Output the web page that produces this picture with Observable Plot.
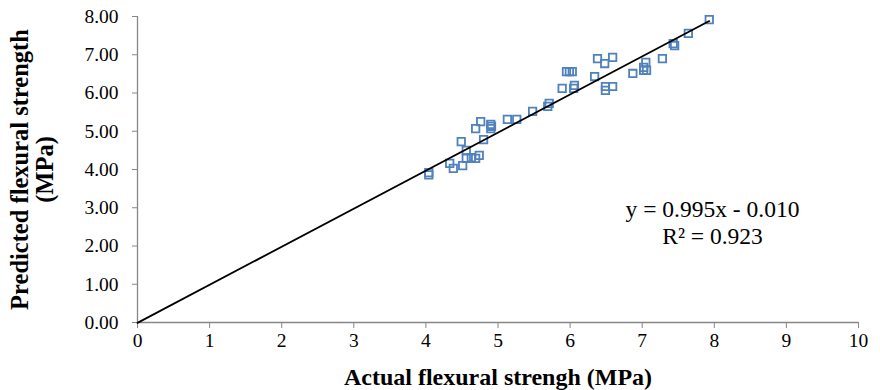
<!DOCTYPE html>
<html>
<head>
<meta charset="utf-8">
<script src="https://cdn.jsdelivr.net/npm/d3@7"></script>
<script src="https://cdn.jsdelivr.net/npm/@observablehq/plot@0.6"></script>
<style>
  body { margin: 0; background: #fff; }
  #chart svg { font-family: "Liberation Serif", "Times New Roman", serif; }
</style>
</head>
<body>
<div id="chart"></div>
<script>
const actual = [4.04, 4.04, 4.33, 4.38, 4.49, 4.51, 4.56, 4.56, 4.63, 4.69, 4.69, 4.74, 4.76, 4.80, 4.90, 4.90, 4.91,
  5.13, 5.26, 5.48, 5.69, 5.71, 5.89, 5.95, 5.99, 6.03, 6.05, 6.06, 6.34, 6.38, 6.48, 6.49, 6.49, 6.59, 6.59,
  6.87, 7.02, 7.02, 7.05, 7.06, 7.28, 7.43, 7.45, 7.64, 7.93];
const predicted = [3.86, 3.92, 4.16, 4.03, 4.73, 4.10, 4.29, 4.50, 4.31, 5.07, 4.29, 4.37, 5.25, 4.78, 5.18, 5.07, 5.13,
  5.31, 5.31, 5.52, 5.65, 5.73, 6.12, 6.56, 6.56, 6.56, 6.12, 6.20, 6.43, 6.90, 6.77, 6.17, 6.07, 6.93, 6.17,
  6.51, 6.59, 6.67, 6.80, 6.59, 6.90, 7.29, 7.24, 7.56, 7.92];
const trendSlope = 0.995;
const trendIntercept = -0.010;
const xTicks = [0, 1, 2, 3, 4, 5, 6, 7, 8, 9, 10];
const yTicks = [0, 1, 2, 3, 4, 5, 6, 7, 8];
const xTitle = "Actual flexural strengh (MPa)";
const yTitle = "Predicted flexural strength\n(MPa)";
const equationText = ["y = 0.995x - 0.010", "R² = 0.923"];

const points = actual.map((a, i) => ({x: a, y: predicted[i]}));
const xEnd = d3.max(actual);
const trend = [0, xEnd].map(x => ({x, y: trendSlope * x + trendIntercept}));

const chart = Plot.plot({
  width: 880,
  height: 390,
  marginLeft: 137,
  marginRight: 22,
  marginTop: 16,
  marginBottom: 68,
  style: {fontFamily: "'Liberation Serif', 'Times New Roman', serif", fontSize: "19px", color: "black", background: "white"},
  x: {domain: [0, 10], ticks: xTicks},
  y: {domain: [0, 8], ticks: yTicks},
  marks: [
    Plot.ruleY([0], {stroke: "#878787", strokeWidth: 1.3}),
    Plot.ruleX([0], {stroke: "#878787", strokeWidth: 1.3}),
    Plot.axisX({ticks: xTicks, tickSize: 6, tickPadding: 5, stroke: "#878787", fill: "black", label: null, fontSize: 19.5, tickFormat: d => d3.format("d")(d)}),
    Plot.axisY({ticks: yTicks, tickSize: 5, tickPadding: 14, stroke: "#878787", fill: "black", label: null, fontSize: 19.5, tickFormat: d3.format(".2f")}),
    Plot.dot(points, {x: "x", y: "y", symbol: "square", r: 4.2, stroke: "#4F81BD", strokeWidth: 1.8, fill: "none"}),
    Plot.line(trend, {x: "x", y: "y", stroke: "black", strokeWidth: 1.8}),
    Plot.text([xTitle], {frameAnchor: "bottom", dy: 55, fontWeight: "bold", fontSize: 24, lineAnchor: "middle", fill: "black"}),
    Plot.text([yTitle], {frameAnchor: "left", dx: -105, rotate: -90, fontWeight: "bold", fontSize: 24.5, lineAnchor: "middle", textAnchor: "middle", fill: "black", lineHeight: 1.02}),
    Plot.text([equationText.join("\n")], {frameAnchor: "top-left", dx: 575, dy: 205.5, fontSize: 23.5, lineAnchor: "middle", textAnchor: "middle", fill: "black", lineHeight: 1.15})
  ]
});
document.getElementById("chart").appendChild(chart);
</script>
</body>
</html>
